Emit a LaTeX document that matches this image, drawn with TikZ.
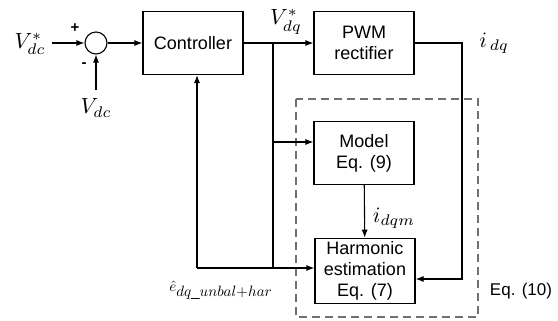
\documentclass[tikz,border=0pt]{standalone}
\usepackage{fontspec}
\setmainfont{Liberation Sans}
\usepackage{tikz}
\usetikzlibrary{arrows.meta,positioning,calc}
\definecolor{estgray}{HTML}{707070}

\begin{document}
\begin{tikzpicture}[>={Latex[length=8pt,width=6pt]},x=1pt,y=-1pt]
\tikzset{
 blk/.style={draw,line width=1.1pt,minimum width=100pt,minimum height=63pt,align=center,font=\fontsize{18}{21}\selectfont},
 a/.style={->,line width=1.1pt},
 l/.style={line width=1.1pt},
 lbl/.style={inner sep=0pt},
 sig/.style={inner sep=0pt,scale=2.2}
}
\useasboundingbox (0,0) rectangle (558,321);
% blocks
\node[circle,draw,line width=1.1pt,minimum size=22pt,inner sep=0pt] (sum) at (96,43) {};
\node[blk] (ctrl) at (193,43) {Controller};
\node[blk] (pwm) at (364,43) {PWM\\rectifier};
\node[blk] (model) at (364,153) {Model\\Eq. (9)};
\node[blk] (harm) at (365,271) {Harmonic\\estimation\\Eq. (7)};
\draw[estgray,line width=1.1pt,dash pattern=on 8pt off 5pt] (296,99) rectangle (478,317);
% signals
\node[sig] (vref) at (30,44) {$V_{dc}^{*}$};
\node[sig] (vdc) at (96,108) {$V_{dc}$};
\node[font=\fontsize{15}{15}\selectfont\bfseries] (plus) at (75,28) {+};
\node[font=\fontsize{15}{15}\selectfont\bfseries] (minus) at (84,65) {-};
\node[sig] (vdq) at (286,22) {$V_{dq}^{*}$};
\node[sig] (idq) at (494,43) {$i_{\,dq}$};
\node[sig] (idqm) at (394,218) {$i_{dqm}$};
\node[lbl,scale=1.5] (ehat) at (221,290) {$\hat{e}_{\textstyle dq\_unbal{+}har}$};
\node[lbl,font=\fontsize{17}{21}\selectfont] (eq10) at (521,291) {Eq. (10)};
\coordinate (jv) at (273,43);
\coordinate (jm) at (273,142);
\coordinate (jh) at (273,268);
\coordinate (fb) at (197,268);
\coordinate (ret) at (462,279);
\coordinate (vin) at (52,43);
\coordinate (vfb) at (96,90);
% connectors
\draw[a] (vin) -- (sum.west);
\draw[a] (vfb) -- (sum.south);
\draw[a] (sum.east) -- (ctrl.west);
\draw[a] (ctrl.east) -- (pwm.west);
\draw[l] (jv) -- (jh);
\draw[a] (jm) -- (jm -| model.west);
\draw[a] (fb) -- (jh -| harm.west);
\draw[a] (fb) -- (ctrl.south -| fb);
\draw[a] (pwm.east) -| (ret) -- (ret -| harm.east);
\draw[a] (model) -- (harm);
\end{tikzpicture}
\end{document}
